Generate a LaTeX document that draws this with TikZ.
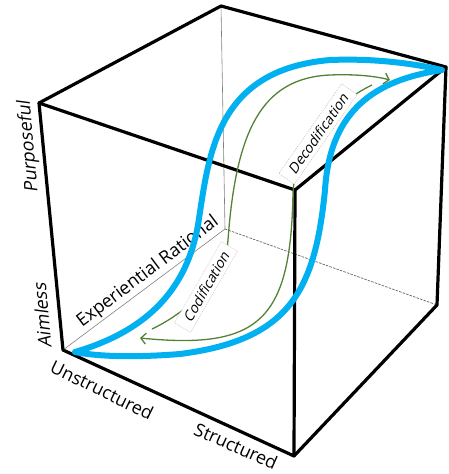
\documentclass[tikz,border=0pt]{standalone}
\usepackage{fontspec}
\setmainfont{Open Sans}[AutoFakeSlant=0.22]
\usetikzlibrary{arrows.meta}
\definecolor{cubeblue}{RGB}{0,176,240}
\definecolor{arrowgreen}{RGB}{84,130,53}
\begin{document}
\begin{tikzpicture}[x=1pt,y=-1pt,
  edge/.style={line width=3.2pt, line join=round, line cap=round},
  hiddenedge/.style={line width=0.6pt, gray},
  hiddendash/.style={line width=0.7pt, gray!80!black, dash pattern=on 2.5pt off 1.2pt},
  loopline/.style={line width=6pt, cubeblue, line join=round, line cap=round},
  flow/.style={line width=1.3pt, arrowgreen, -{Straight Barb[length=5pt,width=11pt,line width=1.3pt]}},
  tag/.style={fill=white, draw=gray!60, dash pattern=on 1pt off 1pt, line width=0.4pt, font=\fontsize{14}{16}\selectfont\itshape, inner xsep=8pt, inner ysep=4pt},
  axislabel/.style={font=\fontsize{18}{20}\selectfont, inner sep=0pt},
  axislabelit/.style={font=\fontsize{18}{20}\selectfont\itshape, inner sep=0pt},
]
\useasboundingbox (0,0) rectangle (448,474);
% cube vertices
\coordinate (FTL) at (39,103);
\coordinate (FTR) at (295,190);
\coordinate (FBL) at (63,350);
\coordinate (FBR) at (294,456);
\coordinate (BTL) at (221,6);
\coordinate (BTR) at (446,67);
\coordinate (BBL) at (225,229);
\coordinate (BBR) at (437,305);
% hidden edges
\draw[hiddenedge] (BTL) -- (BBL);
\draw[hiddenedge] (BBL) -- (FBL);
\draw[hiddendash] (BBL) -- (BBR);
% visible edges
\draw[edge] (FTL) -- (FTR) -- (FBR) -- (FBL) -- cycle;
\draw[edge] (FTL) -- (BTL) -- (BTR) -- (FTR);
\draw[edge] (BTR) -- (BBR) -- (FBR);
% axis labels
\node[axislabelit, rotate=95] (purp) at (29,147) {Purposeful};
\node[axislabelit, rotate=95] (aim) at (42,316) {Aimless};
\node[axislabel, rotate=37] (exp) at (148,272) {Experiential Rational};
\node[axislabel, rotate=-26] (unst) at (102,390) {Unstructured};
\node[axislabel, rotate=-24] (str) at (236,446) {Structured};
% blue hysteresis loop
\coordinate (LA) at (75,352);
\coordinate (LB) at (442,70);
\draw[loopline] (LA) .. controls (150,330) and (187,287) .. (198,225)
  .. controls (209,155) and (215,70) .. (330,60)
  .. controls (380,58) and (420,65) .. (LB)
  .. controls (375,80) and (330,110) .. (325,190)
  .. controls (315,290) and (290,340) .. (180,354)
  .. controls (130,358) and (95,356) .. (LA);
% green arrows
\coordinate (cs) at (152,329);
\coordinate (ce) at (390,80);
\coordinate (ds) at (372,85);
\coordinate (de) at (140,338);
\draw[flow] (cs) .. controls (190,311) and (226,275) .. (228,240)
  .. controls (236,130) and (262,78) .. (330,75)
  .. controls (355,74) and (375,76) .. (ce);
\draw[flow] (ds) .. controls (330,105) and (296,150) .. (293,192)
  .. controls (291,320) and (260,350) .. (de);
% tags
\node[tag, rotate=60] (cod) at (206,287) {Codification};
\node[tag, rotate=55] (dec) at (318,134) {Decodification};
\end{tikzpicture}
\end{document}
